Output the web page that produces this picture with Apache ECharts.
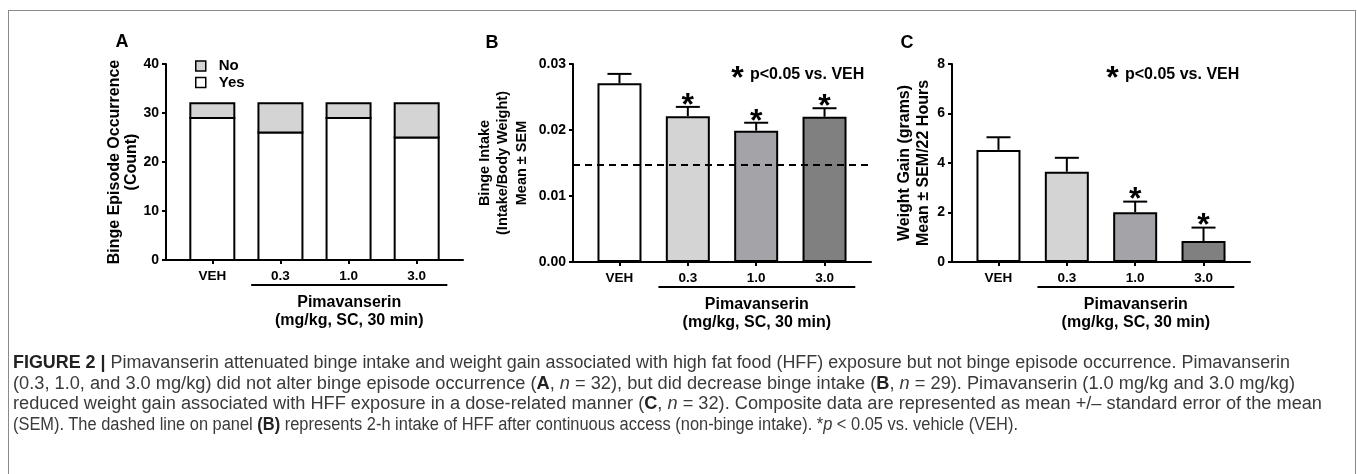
<!DOCTYPE html>
<html><head><meta charset="utf-8">
<script src="https://cdn.jsdelivr.net/npm/echarts@6/dist/echarts.min.js"></script>
<style>
html,body{margin:0;padding:0;background:#fff;overflow:hidden;}
#frame{position:absolute;left:8px;top:10px;width:1348px;height:480px;border:1.5px solid #8a8a8a;box-sizing:border-box;}
#chart{position:absolute;left:0;top:0;width:1357px;height:474px;}
#caption{position:absolute;left:13px;top:352px;font-family:"Liberation Sans Narrow","Liberation Sans",Arial,sans-serif;font-size:18px;line-height:20.7px;color:#3a3a3a;}
.ln{white-space:nowrap;transform-origin:0 50%;width:max-content;}
.ln b{color:#222;}
</style></head>
<body>
<div id="frame"></div>
<div id="chart"></div>
<div id="caption">
<div class="ln" data-w="1277"><b>FIGURE 2 |</b> Pimavanserin attenuated binge intake and weight gain associated with high fat food (HFF) exposure but not binge episode occurrence. Pimavanserin</div>
<div class="ln" data-w="1282">(0.3, 1.0, and 3.0 mg/kg) did not alter binge episode occurrence (<b>A</b>, <i>n</i> = 32), but did decrease binge intake (<b>B</b>, <i>n</i> = 29). Pimavanserin (1.0 mg/kg and 3.0 mg/kg)</div>
<div class="ln" data-w="1309">reduced weight gain associated with HFF exposure in a dose-related manner (<b>C</b>, <i>n</i> = 32). Composite data are represented as mean +/– standard error of the mean</div>
<div class="ln" data-w="1005">(SEM). The dashed line on panel <b>(B)</b> represents 2-h intake of HFF after continuous access (non-binge intake). *<i>p</i> &lt; 0.05 vs. vehicle (VEH).</div>
</div>
<script>
// ---- data ----
const categories = ['VEH', '0.3', '1.0', '3.0'];
const catPos = [1, 2, 3, 4];
const occYes = [29, 26, 29, 25];
const occNo = [3, 6, 3, 7];
const intakeMean = [0.0271, 0.0221, 0.0199, 0.0220];
const intakeSem = [0.0014, 0.0014, 0.0012, 0.0013];
const intakeSig = [0, 1, 1, 1];
const nonBingeIntake = 0.0148;
const gainMean = [4.53, 3.65, 2.01, 0.85];
const gainSem = [0.51, 0.56, 0.43, 0.54];
const gainSig = [0, 0, 1, 1];
const barColors = ['#ffffff', '#d4d4d4', '#a3a3a8', '#808080'];
const bracketRange = [1.57, 4.45];

const FONT = '"Liberation Sans", Arial, sans-serif';
const BAR_W = 44;
const chart = echarts.init(document.getElementById('chart'), null, {renderer: 'canvas'});

function xAxisDef(gi) {
  return {
    gridIndex: gi, type: 'value', min: 0.32, max: 4.68,
    splitLine: {show: false},
    axisLine: {show: true, lineStyle: {color: '#000', width: 2}},
    axisTick: {show: true, customValues: catPos, length: 4, lineStyle: {color: '#000', width: 2}},
    axisLabel: {customValues: catPos, margin: 9, color: '#000', fontWeight: 'bold', fontSize: 13.5, fontFamily: FONT,
      formatter: v => categories[Math.round(v) - 1]}
  };
}
function yAxisDef(gi, min, max, interval, name, fs, lh, gap, fmt) {
  return {
    gridIndex: gi, type: 'value', min, max, interval,
    name, nameLocation: 'middle', nameRotate: 90, nameGap: gap,
    nameTextStyle: {color: '#000', fontWeight: 'bold', fontSize: fs, lineHeight: lh, fontFamily: FONT, align: 'center'},
    splitLine: {show: false},
    axisLine: {show: true, lineStyle: {color: '#000', width: 2}},
    axisTick: {show: true, length: 4, lineStyle: {color: '#000', width: 2}},
    axisLabel: {margin: 7, color: '#000', fontWeight: 'bold', fontSize: 14, fontFamily: FONT, formatter: fmt}
  };
}
// stacked occurrence segments: value(1) = Yes count, value(2) = No count
function occRender(part, fill) {
  return function (params, api) {
    const x = api.value(0), yes = api.value(1), no = api.value(2);
    const lo = part === 'yes' ? 0 : yes;
    const hi = part === 'yes' ? yes : yes + no;
    const p0 = api.coord([x, lo]);
    const p1 = api.coord([x, hi]);
    return {type: 'rect', shape: {x: p0[0] - BAR_W / 2, y: p1[1], width: BAR_W, height: p0[1] - p1[1]},
      style: {fill, stroke: '#000', lineWidth: 2}};
  };
}
function errRender(params, api) {
  const x = api.value(0), m = api.value(1), s = api.value(2), sig = api.value(3);
  const base = api.coord([x, m]);
  const top = api.coord([x, m + s]);
  const children = [
    {type: 'line', shape: {x1: top[0], y1: base[1], x2: top[0], y2: top[1]}, style: {stroke: '#000', lineWidth: 2}},
    {type: 'line', shape: {x1: top[0] - 12, y1: top[1], x2: top[0] + 12, y2: top[1]}, style: {stroke: '#000', lineWidth: 2}}
  ];
  if (sig) {
    children.push({type: 'text', x: top[0], y: top[1] - 1,
      style: {text: '*', fill: '#000', font: 'bold 32px ' + FONT, textAlign: 'center', textVerticalAlign: 'middle'}});
  }
  return {type: 'group', children};
}
const barStyle = c => ({color: c, borderColor: '#000', borderWidth: 2});

const option = {
  animation: false,
  textStyle: {fontFamily: FONT},
  grid: [
    {left: 166, top: 64, width: 297, height: 196},
    {left: 573, top: 64, width: 298, height: 198},
    {left: 952, top: 64, width: 298, height: 198}
  ],
  legend: {
    left: 195, top: 58, padding: 0, orient: 'vertical', itemWidth: 10, itemHeight: 10, itemGap: 0.4,
    icon: 'rect', data: ['No', 'Yes'],
    itemStyle: {borderColor: '#000', borderWidth: 1.5},
    textStyle: {color: '#000', fontWeight: 'bold', fontSize: 15, lineHeight: 16, fontFamily: FONT, padding: [0, 0, 0, 8]}
  },
  xAxis: [xAxisDef(0), xAxisDef(1), xAxisDef(2)],
  yAxis: [
    yAxisDef(0, 0, 40, 10, 'Binge Episode Occurrence\n(Count)', 16, 16.5, 22, v => String(v)),
    yAxisDef(1, 0, 0.03, 0.01, 'Binge Intake\n(Intake/Body Weight)\nMean ± SEM', 14.5, 18.5, 42, v => v.toFixed(2)),
    yAxisDef(2, 0, 8, 2, 'Weight Gain (grams)\nMean ± SEM/22 Hours', 16, 19, 18, v => String(v))
  ],
  series: [
    {name: 'Yes', type: 'custom', xAxisIndex: 0, yAxisIndex: 0, itemStyle: {color: '#ffffff'},
      renderItem: occRender('yes', '#ffffff'), data: catPos.map((x, i) => [x, occYes[i], occNo[i]])},
    {name: 'No', type: 'custom', xAxisIndex: 0, yAxisIndex: 0, itemStyle: {color: '#d4d4d4'},
      renderItem: occRender('no', '#d4d4d4'), data: catPos.map((x, i) => [x, occYes[i], occNo[i]])},
    {name: 'Binge intake', type: 'bar', xAxisIndex: 1, yAxisIndex: 1, barWidth: BAR_W,
      data: catPos.map((x, i) => ({value: [x, intakeMean[i]], itemStyle: barStyle(barColors[i])})),
      markLine: {silent: true, precision: 5, symbol: ['none', 'none'], label: {show: false},
        lineStyle: {color: '#000', width: 2, type: [7, 5]}, data: [{yAxis: nonBingeIntake}]}},
    {name: 'Binge intake SEM', type: 'custom', xAxisIndex: 1, yAxisIndex: 1, z: 5, renderItem: errRender,
      data: catPos.map((x, i) => [x, intakeMean[i], intakeSem[i], intakeSig[i]])},
    {name: 'Weight gain', type: 'bar', xAxisIndex: 2, yAxisIndex: 2, barWidth: BAR_W,
      data: catPos.map((x, i) => ({value: [x, gainMean[i]], itemStyle: barStyle(barColors[i])}))},
    {name: 'Weight gain SEM', type: 'custom', xAxisIndex: 2, yAxisIndex: 2, z: 5, renderItem: errRender,
      data: catPos.map((x, i) => [x, gainMean[i], gainSem[i], gainSig[i]])}
  ]
};
chart.setOption(option);

// annotations positioned from the axes' scales
const graphic = [];
const txt = (x, y, text, size, align) => ({type: 'text', x, y, silent: true,
  style: {text, fill: '#000', font: 'bold ' + size + 'px ' + FONT, textAlign: align || 'center', textVerticalAlign: 'middle'}});
[0, 1, 2].forEach(gi => {
  const p1 = chart.convertToPixel({gridIndex: gi}, [bracketRange[0], 0]);
  const p2 = chart.convertToPixel({gridIndex: gi}, [bracketRange[1], 0]);
  const mid = (p1[0] + p2[0]) / 2;
  graphic.push({type: 'line', silent: true, shape: {x1: p1[0], y1: p1[1] + 25, x2: p2[0], y2: p2[1] + 25},
    style: {stroke: '#000', lineWidth: 2}});
  graphic.push(txt(mid, p1[1] + 43, 'Pimavanserin', 16));
  graphic.push(txt(mid, p1[1] + 61, '(mg/kg, SC, 30 min)', 16));
});
graphic.push(txt(122, 42, 'A', 18));
graphic.push(txt(492, 43, 'B', 18));
graphic.push(txt(907, 43, 'C', 18));
[[737.5, 750], [1112.5, 1125]].forEach(([sx, tx]) => {
  graphic.push(txt(sx, 79, '*', 32));
  graphic.push(txt(tx, 75, 'p<0.05 vs. VEH', 16, 'left'));
});
chart.setOption({graphic});

// fit caption lines to the reference widths
document.querySelectorAll('.ln').forEach(el => {
  const w = el.getBoundingClientRect().width;
  el.style.transform = 'scaleX(' + ((+el.dataset.w) / w) + ')';
});
</script>
</body></html>
